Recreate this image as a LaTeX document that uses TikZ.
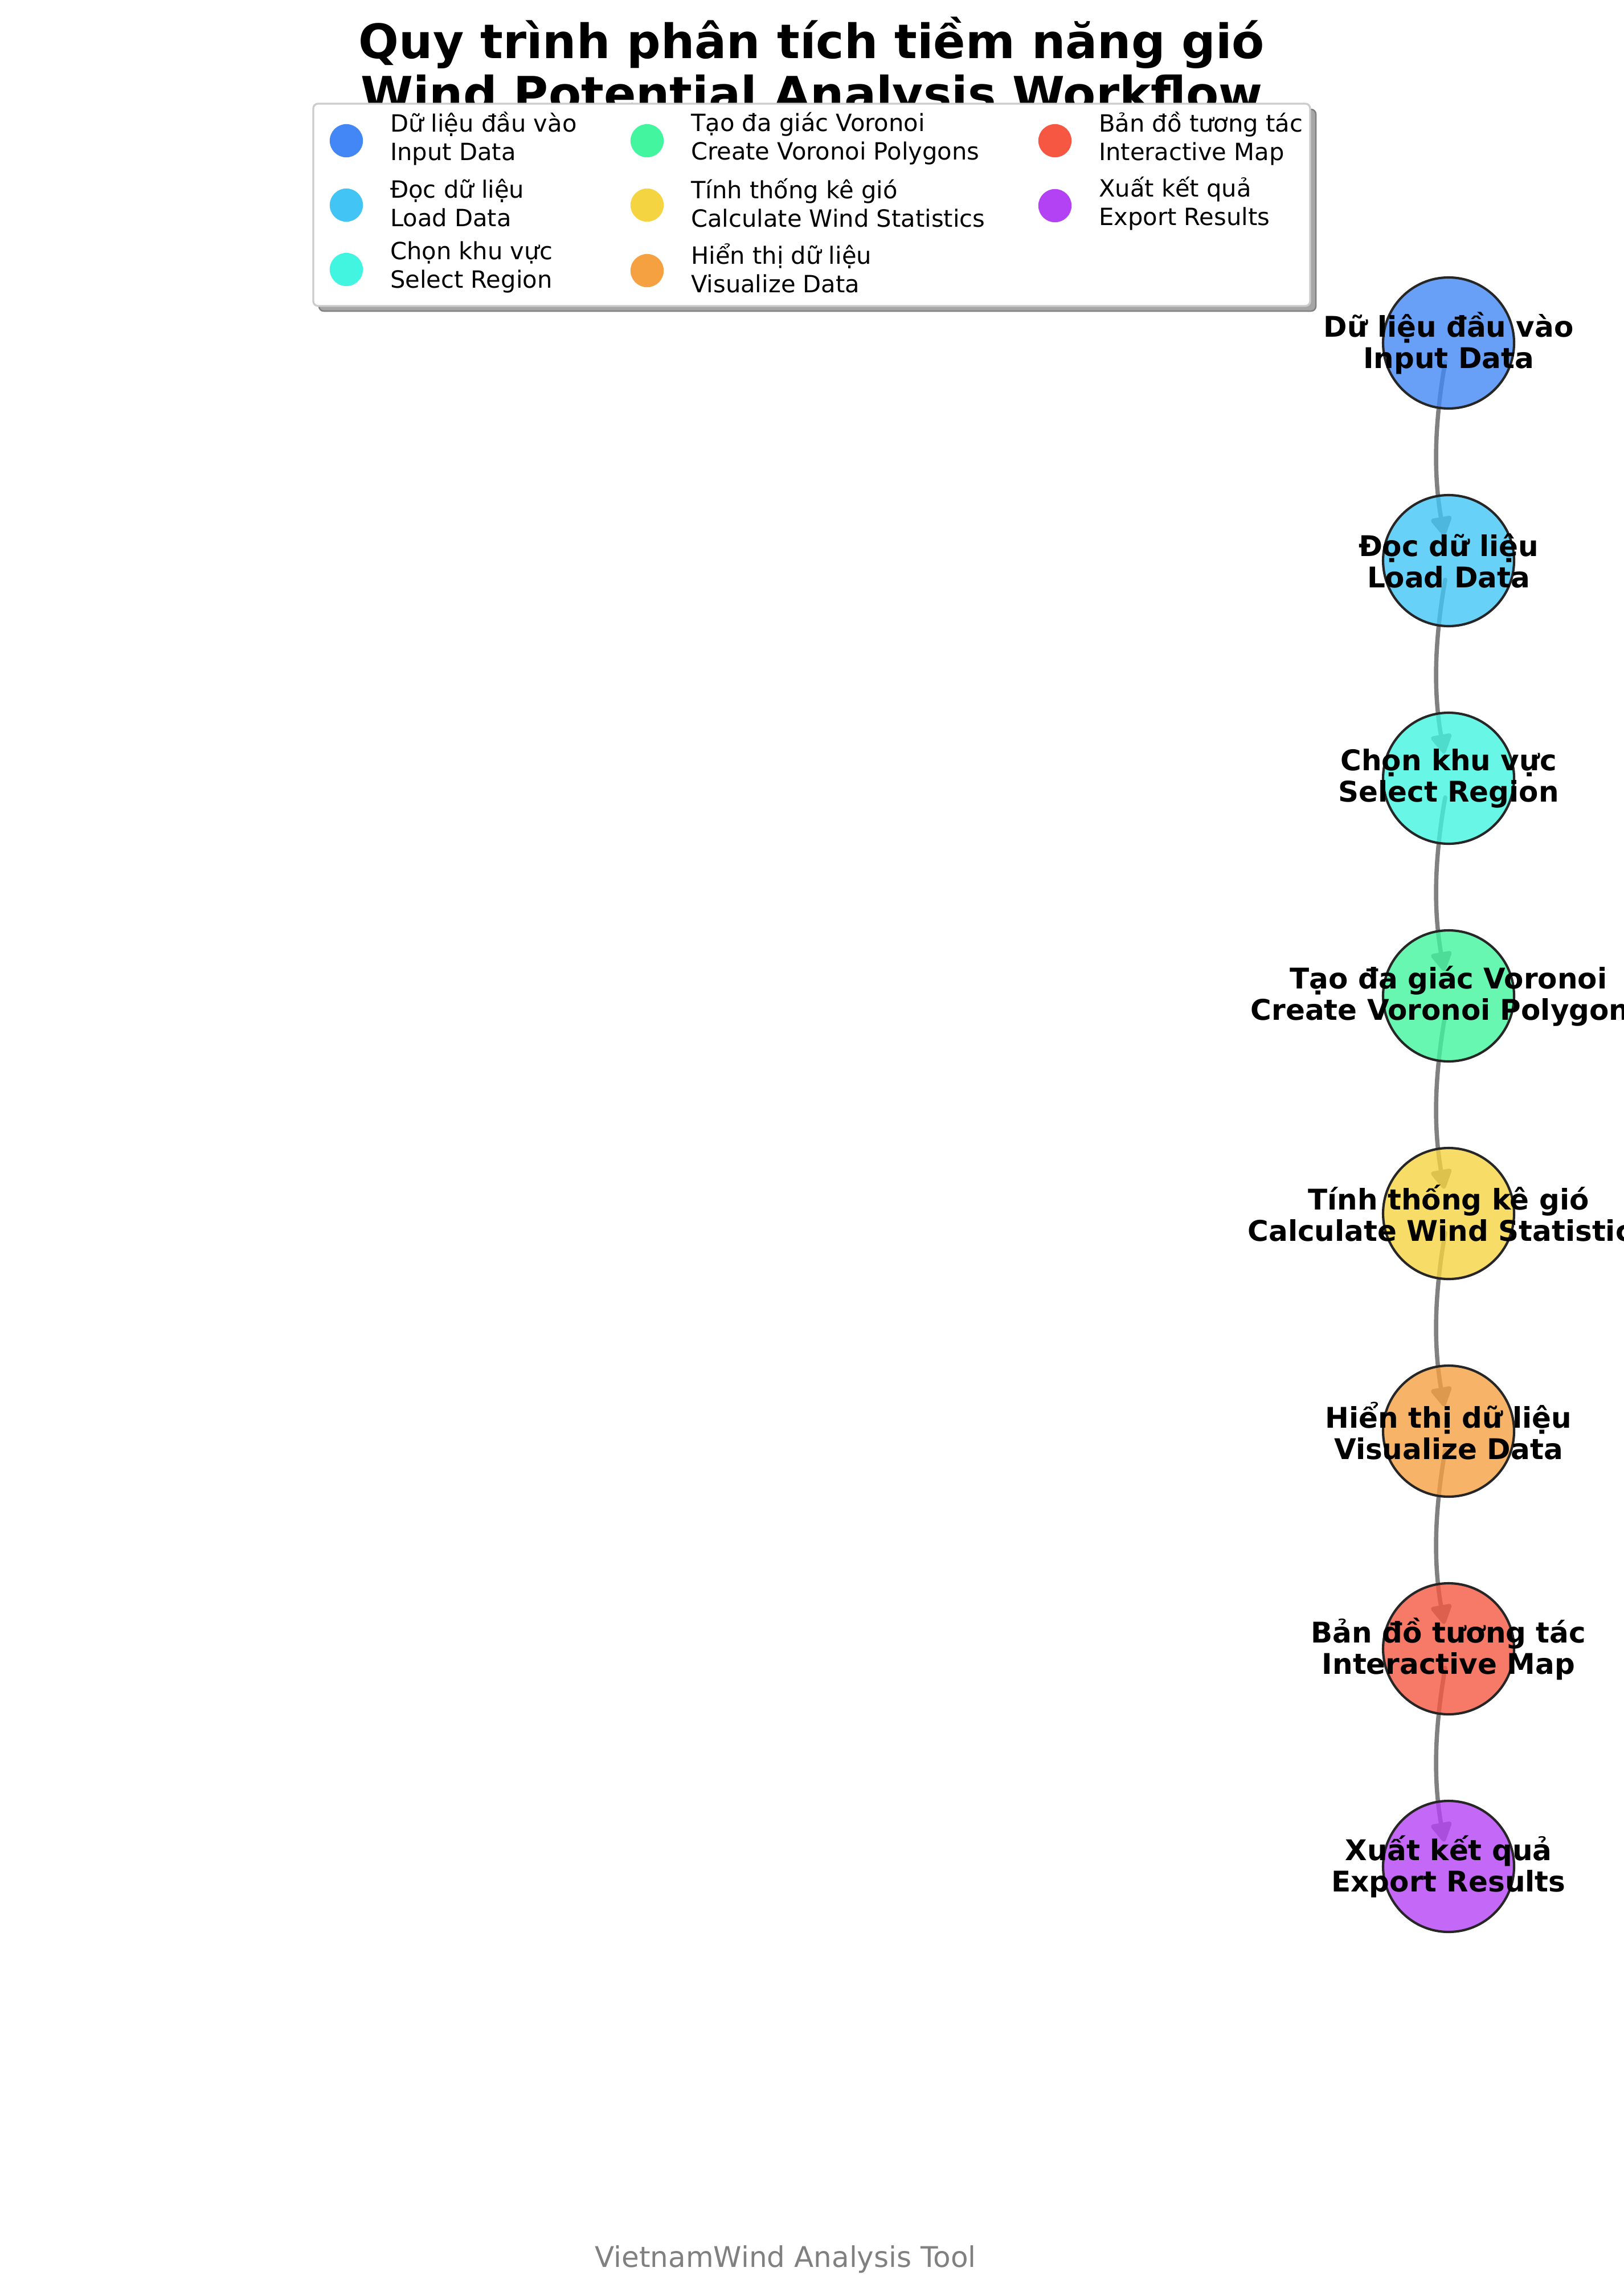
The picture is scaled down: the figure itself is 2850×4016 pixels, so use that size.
\documentclass[tikz,border=0pt]{standalone}
\usepackage{fontspec}
\setmainfont{DejaVu Sans}
\usetikzlibrary{arrows.meta,backgrounds}

\definecolor{cinput}{HTML}{4287F5}
\definecolor{cload}{HTML}{42C5F5}
\definecolor{cregion}{HTML}{42F5E0}
\definecolor{cvoronoi}{HTML}{42F59E}
\definecolor{cstats}{HTML}{F5D442}
\definecolor{cvisual}{HTML}{F5A142}
\definecolor{cmap}{HTML}{F55742}
\definecolor{cexport}{HTML}{B442F5}

\begin{document}
\begin{tikzpicture}
  [x=0.24pt,y=-0.24pt,every node/.style={inner sep=0pt,outer sep=0pt}]
  \tikzstyle{stepnode} = [circle,minimum size=55.2pt,draw=black!85,line width=1pt,fill opacity=0.8]
  \tikzstyle{steplabel} = [align=center,font=\bfseries\fontsize{12}{13.2}\selectfont]
  \tikzstyle{flow} = [gray,line width=1.8pt,line cap=round,
    -{Triangle[length=9pt,width=9.6pt,round]},shorten <=8.2pt,shorten >=10.6pt]
  \tikzstyle{legmark} = [circle,minimum size=14pt]
  \tikzstyle{legtext} = [anchor=west,align=left,font=\fontsize{10}{12}\selectfont]

  \useasboundingbox (0,0) rectangle (2850,4016);
  \clip (0,0) rectangle (2850,4016);

  % title
  \node[anchor=base,font=\bfseries\fontsize{20}{24}\selectfont] (title1) at (1425,103)
    {Quy trình phân tích tiềm năng gió};
  \node[anchor=base,font=\bfseries\fontsize{20}{24}\selectfont] (title2) at (1425,195)
    {Wind Potential Analysis Workflow};

  % legend
  \draw[fill=black!35,draw=black!50,line width=0.6pt,rounded corners=2pt] (560,192) rectangle (2310,546);
  \draw[fill=white,draw=black!20,line width=0.8pt,rounded corners=2pt] (550,182) rectangle (2300,537);
  \foreach \name/\col/\mx/\my/\ta/\tb in {
      k1/cinput/608/247/{Dữ liệu đầu vào}/{Input Data},
      k2/cload/608/360/{Đọc dữ liệu}/{Load Data},
      k3/cregion/608/473/{Chọn khu vực}/{Select Region},
      k4/cvoronoi/1136/247/{Tạo đa giác Voronoi}/{Create Voronoi Polygons},
      k5/cstats/1136/360/{Tính thống kê gió}/{Calculate Wind Statistics},
      k6/cvisual/1136/475/{Hiển thị dữ liệu}/{Visualize Data},
      k7/cmap/1852/247/{Bản đồ tương tác}/{Interactive Map},
      k8/cexport/1852/361/{Xuất kết quả}/{Export Results}}
  {
    \node[legmark,fill=\col] (\name) at (\mx,\my) {};
    \node[legtext] (\name t) at ([xshift=18.5pt,yshift=1pt]\name.center) {\ta\\\tb};
  }

  % workflow steps
  \node[stepnode,fill=cinput] (n1) at (2543,602) {};
  \node[stepnode,fill=cload] (n2) at (2543,984) {};
  \node[stepnode,fill=cregion] (n3) at (2543,1366) {};
  \node[stepnode,fill=cvoronoi] (n4) at (2543,1748) {};
  \node[stepnode,fill=cstats] (n5) at (2543,2130) {};
  \node[stepnode,fill=cvisual] (n6) at (2543,2512) {};
  \node[stepnode,fill=cmap] (n7) at (2543,2894) {};
  \node[stepnode,fill=cexport] (n8) at (2543,3276) {};

  \node[steplabel] (t1) at (n1) {Dữ liệu đầu vào\\Input Data};
  \node[steplabel] (t2) at (n2) {Đọc dữ liệu\\Load Data};
  \node[steplabel] (t3) at (n3) {Chọn khu vực\\Select Region};
  \node[steplabel] (t4) at (n4) {Tạo đa giác Voronoi\\Create Voronoi Polygons};
  \node[steplabel] (t5) at (n5) {Tính thống kê gió\\Calculate Wind Statistics};
  \node[steplabel] (t6) at (n6) {Hiển thị dữ liệu\\Visualize Data};
  \node[steplabel] (t7) at (n7) {Bản đồ tương tác\\Interactive Map};
  \node[steplabel] (t8) at (n8) {Xuất kết quả\\Export Results};

  \begin{scope}[on background layer]
    \foreach \from/\to in {n1/n2,n2/n3,n3/n4,n4/n5,n5/n6,n6/n7,n7/n8}
      \draw[flow] (\from.center) to[bend right=10] (\to.center);
  \end{scope}

  % footer
  \node[anchor=base,gray,font=\fontsize{12}{14.4}\selectfont] (footer) at (1379,3979)
    {VietnamWind Analysis Tool};

\end{tikzpicture}
\end{document}
